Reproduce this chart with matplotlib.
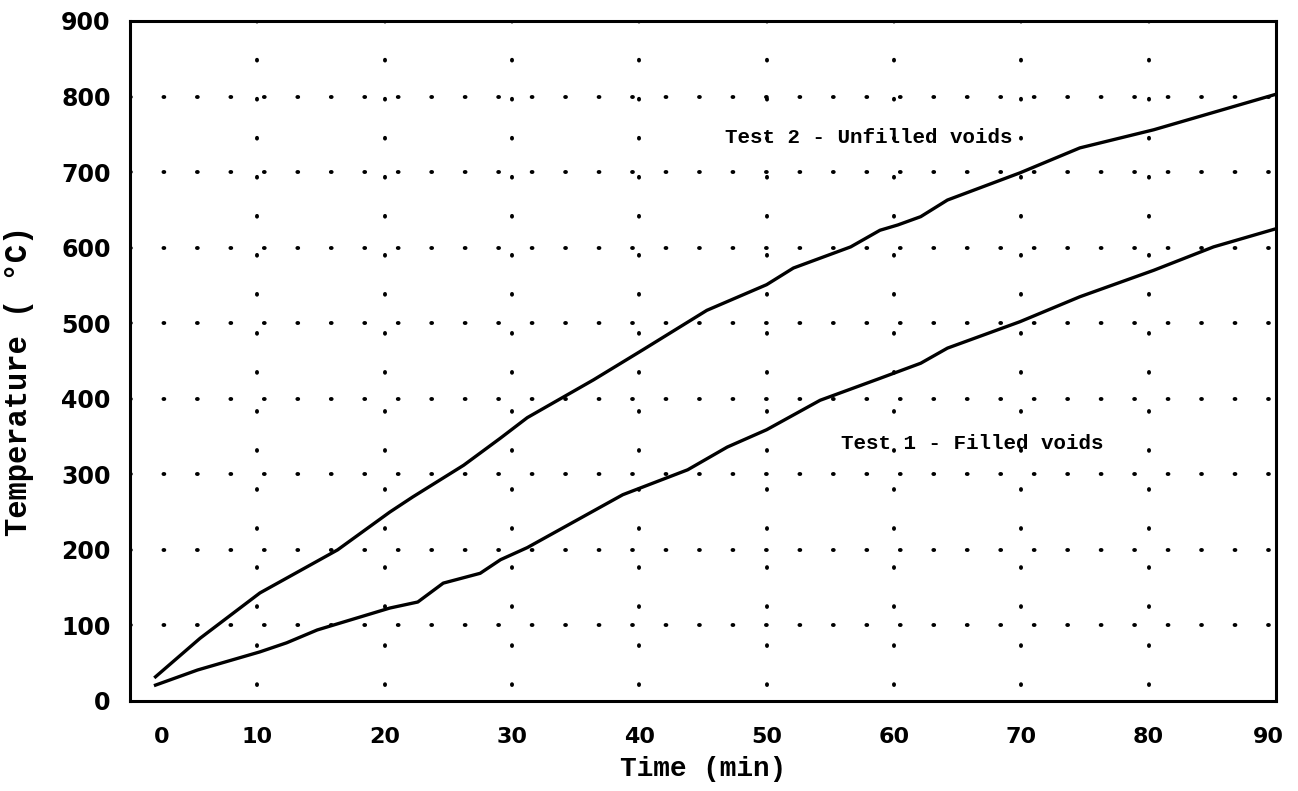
import matplotlib
matplotlib.use('Agg')
import matplotlib.pyplot as plt
import matplotlib.transforms as mtransforms

# Test 2 - unfilled voids
time_unfilled = [2, 5.5, 10.2, 16.3, 20.4, 22.2, 26.2, 29.1, 31.2, 36.4, 40.3, 45.3,
                 50, 52.1, 56.6, 58.9, 60.3, 62.1, 64.2, 69.9, 74.6, 80.4, 90]
temp_unfilled = [32, 83, 143, 200, 250, 270, 312, 348, 375, 425, 465, 517,
                 551, 573, 601, 623, 630, 641, 663, 699, 732, 756, 803]

# Test 1 - filled voids
time_filled = [2, 5.3, 10.2, 12.3, 14.7, 20.4, 22.6, 24.6, 27.5, 29.1, 31.2, 38.7,
               43.8, 46.9, 50, 54.2, 58.9, 62.1, 64.2, 69.9, 74.6, 80.4, 85.1, 90]
temp_filled = [21, 41, 65, 77, 94, 123, 131, 156, 169, 187, 203, 273,
               306, 336, 359, 398, 427, 447, 467, 502, 535, 570, 601, 625]

x_ticks = [0, 10, 20, 30, 40, 50, 60, 70, 80, 90]
y_ticks = [0, 100, 200, 300, 400, 500, 600, 700, 800, 900]

plt.rcParams['lines.scale_dashes'] = False

fig = plt.figure(figsize=(12.98, 7.91), dpi=100)
ax = fig.add_axes([0.1002, 0.1138, 0.8828, 0.8597])

ax.plot(time_unfilled, temp_unfilled, c='black', lw=2.4, zorder=3)
ax.plot(time_filled, temp_filled, c='black', lw=2.4, zorder=3)

ax.set_xlim(0, 90)
ax.set_ylim(0, 900)
ax.set_xticks(x_ticks)
ax.set_yticks(y_ticks)

# Точечная сетка
ax.grid(axis='y', color='black', linewidth=2.8, linestyle=(0, (0.6, 23.5)),
        dash_capstyle='round')
ax.grid(axis='x', color='black', linewidth=2.8, linestyle=(16.6, (0.6, 27.5)),
        dash_capstyle='round')
# крайние линии сетки совпадают с рамкой
for gl in (ax.xaxis.get_gridlines()[0], ax.xaxis.get_gridlines()[-1],
           ax.yaxis.get_gridlines()[0], ax.yaxis.get_gridlines()[-1]):
    gl.set_visible(False)

for s in ax.spines.values():
    s.set_linewidth(2.2)

ax.tick_params(axis='both', length=0)
ax.tick_params(axis='x', pad=19)
ax.tick_params(axis='y', pad=14)
for lab in ax.get_xticklabels():
    lab.set_fontfamily('DejaVu Sans')
    lab.set_fontweight('bold')
    lab.set_fontsize(16)
for lab in ax.get_yticklabels():
    lab.set_fontfamily('DejaVu Sans')
    lab.set_fontweight('bold')
    lab.set_fontsize(17)

# метки "0" и "90" сдвинуты как в оригинале
labels = ax.get_xticklabels()
labels[0].set_transform(labels[0].get_transform() +
                        mtransforms.ScaledTranslation(0.32, 0, fig.dpi_scale_trans))
labels[-1].set_transform(labels[-1].get_transform() +
                         mtransforms.ScaledTranslation(-0.08, 0, fig.dpi_scale_trans))

ax.set_xlabel('Time (min)', fontfamily='Liberation Mono', fontweight='bold',
              fontsize=20, labelpad=6)
ax.set_ylabel('Temperature ( °C)', fontfamily='Liberation Mono', fontweight='bold',
              fontsize=22)
ax.yaxis.set_label_coords(-0.084, 0.47)

ax.text(46.7, 746, 'Test 2 - Unfilled voids', fontfamily='Liberation Mono',
        fontweight='bold', fontsize=15, ha='left', va='center')
ax.text(55.8, 341, 'Test 1 - Filled voids', fontfamily='Liberation Mono',
        fontweight='bold', fontsize=15, ha='left', va='center')

fig.savefig('out.png', dpi=100)
